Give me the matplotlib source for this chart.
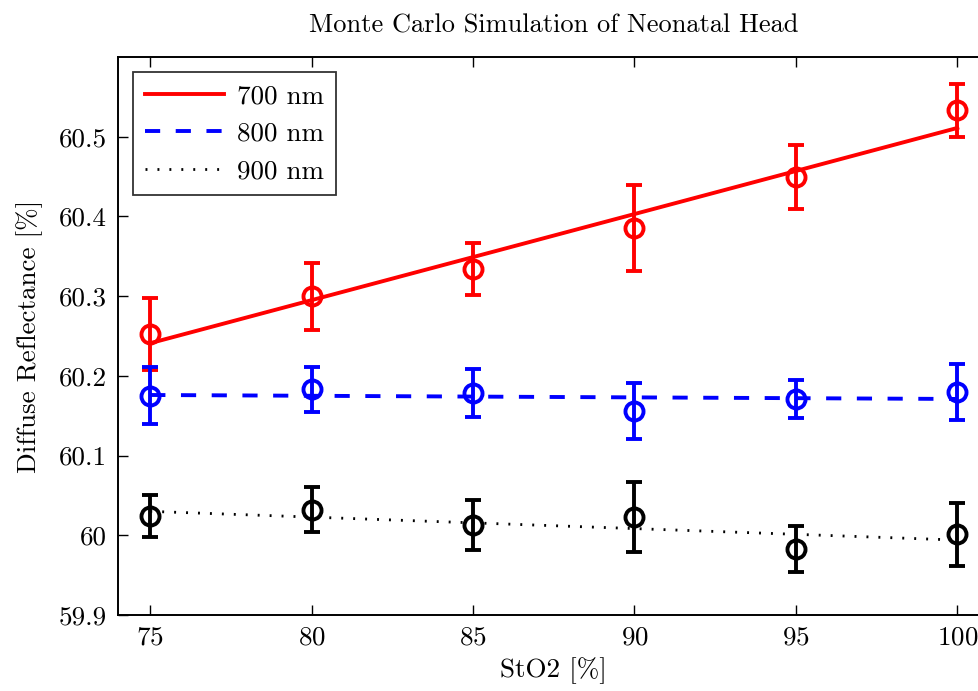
import matplotlib
matplotlib.use("Agg")
import matplotlib.pyplot as plt

plt.rcParams['font.family'] = ['cmr10', 'DejaVu Serif']
plt.rcParams['mathtext.fontset'] = 'cm'
plt.rcParams['axes.formatter.use_mathtext'] = True

sto2 = [75, 80, 85, 90, 95, 100]

# diffuse reflectance [%] and error half-widths
r700 = [60.2525, 60.300, 60.334, 60.386, 60.449, 60.533]
e700 = [0.045, 0.042, 0.033, 0.054, 0.040, 0.033]
r800 = [60.175, 60.183, 60.178, 60.156, 60.171, 60.180]
e800 = [0.036, 0.028, 0.030, 0.035, 0.024, 0.035]
r900 = [60.024, 60.032, 60.013, 60.023, 59.983, 60.001]
e900 = [0.026, 0.028, 0.031, 0.044, 0.029, 0.039]

# linear fit lines (end points)
fit_x = [75, 100]
fit700 = [60.241, 60.511]
fit800 = [60.176, 60.171]
fit900 = [60.030, 59.994]

fig = plt.figure(figsize=(9.79, 6.91), dpi=100)
ax = fig.add_axes([0.1205, 0.110, 0.8903, 0.8075])

lw = 2.8
ax.plot(fit_x, fit700, color='red', lw=lw, label='700 nm')
ax.plot(fit_x, fit800, color='blue', lw=lw, linestyle=(0, (3.9, 4.0)), label='800 nm')
ax.plot(fit_x, fit900, color='black', lw=2.0, linestyle=(0, (0.7, 3.6)), label='900 nm')

for y, e, c in [(r700, e700, 'red'), (r800, e800, 'blue'), (r900, e900, 'black')]:
    ax.errorbar(sto2, y, yerr=e, fmt='o', color=c, mfc='none', mec=c,
                ms=13, mew=2.8, elinewidth=2.8, capsize=5.5, capthick=2.8)

ax.set_xlim(74, 101)
ax.set_ylim(59.9, 60.6)
ax.set_xticks(sto2)
ax.set_yticks([59.9, 60, 60.1, 60.2, 60.3, 60.4, 60.5])
ax.set_yticklabels(['59.9', '60', '60.1', '60.2', '60.3', '60.4', '60.5'])
ax.tick_params(direction='in', length=7, width=1, labelsize=19.5,
               top=True, right=True, pad=8)
for s in ax.spines.values():
    s.set_linewidth(1.4)

ax.set_title('Monte Carlo Simulation of Neonatal Head', fontsize=19, pad=18)
ax.set_xlabel('StO2 [%]', fontsize=19.5, labelpad=5)
ax.set_ylabel('Diffuse Reflectance [%]', fontsize=19.5, labelpad=11)

leg = ax.legend(loc='upper left', fontsize=19.5, frameon=True, fancybox=False,
                edgecolor='black', handlelength=2.9, borderaxespad=0.55,
                labelspacing=0.5, handletextpad=0.5, borderpad=0.45)
leg.get_frame().set_linewidth(1.3)

fig.savefig('out.png', dpi=100)
